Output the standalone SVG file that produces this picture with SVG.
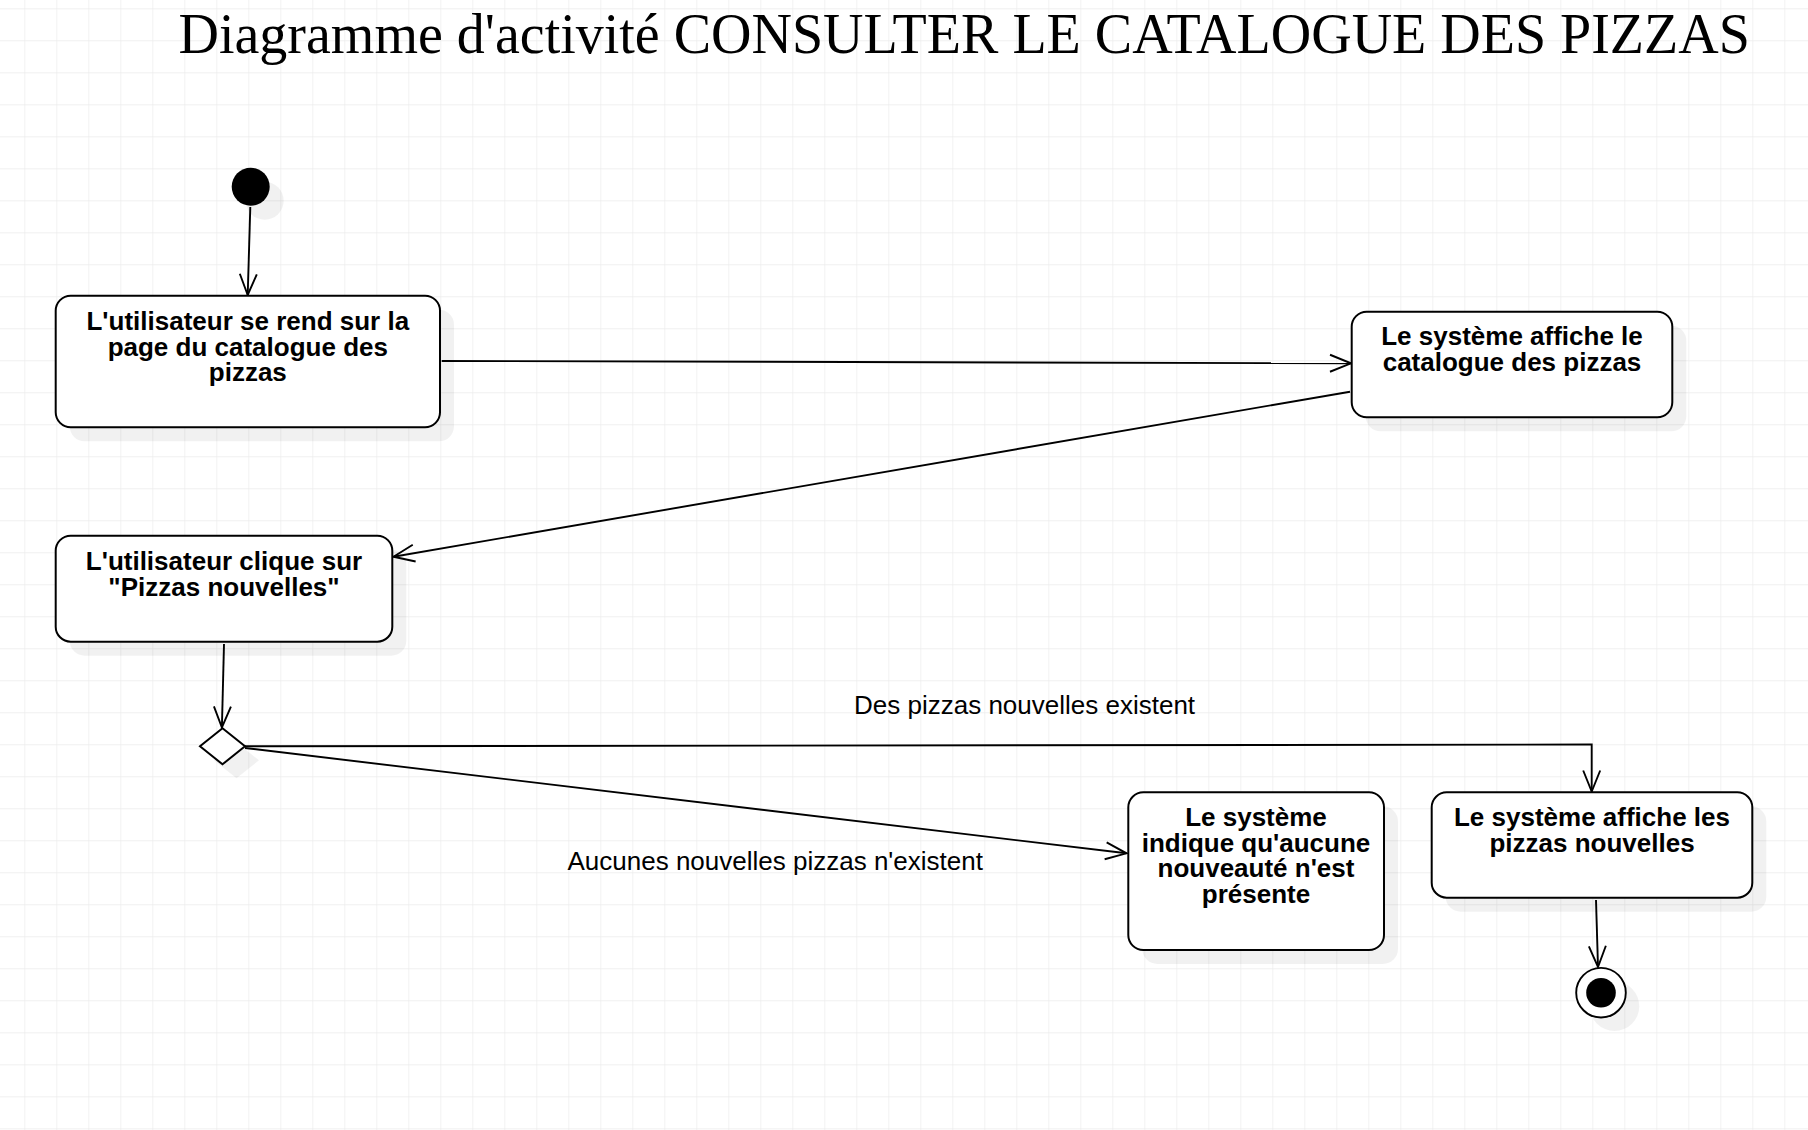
<svg xmlns="http://www.w3.org/2000/svg" width="1808" height="1130" viewBox="0 0 1808 1130">
<style>
.node{fill:#fff;stroke:#000;stroke-width:2}
.shadow{fill:#000;fill-opacity:0.055;stroke:none}
.txt{font-family:"Liberation Sans",Arial,sans-serif;font-size:26px;font-weight:bold;text-anchor:middle;fill:#000}
.lbl{font-family:"Liberation Sans",Arial,sans-serif;font-size:26px;fill:#000}
.title{font-family:"Liberation Serif","Times New Roman",serif;font-size:56px;fill:#000}
.edge{fill:none;stroke:#000;stroke-width:1.9;marker-end:url(#arr)}
</style>
<defs>
<pattern id="grid" x="24.3" y="8.3" width="32" height="32" patternUnits="userSpaceOnUse">
<path d="M0,0 H32 M0,0 V32" fill="none" stroke="#ececec" stroke-width="1.4"/>
</pattern>
<marker id="arr" markerUnits="userSpaceOnUse" markerWidth="26" markerHeight="22" viewBox="-23 -11 26 22" refX="0" refY="0" orient="auto" overflow="visible">
<path d="M-21,-8.5 L0,0 L-21,8.5" fill="none" stroke="#000" stroke-width="1.9"/>
</marker>
</defs>
<rect width="1808" height="1130" fill="#fff"/>
<rect width="1808" height="1130" fill="url(#grid)"/>
<text class="title" x="178.5" y="52.5">Diagramme d'activité CONSULTER LE CATALOGUE DES PIZZAS</text>

<g id="connectors">
<path class="edge" d="M250.3,207 L247.7,295"/>
<path class="edge" d="M441.7,361 L1351,363.3"/>
<path class="edge" d="M1350,391.7 L393.5,556.7"/>
<path class="edge" d="M224,644 L221.9,727.5"/>
<path class="edge" d="M245,746.3 L1591.7,744.5 L1591.7,791.5"/>
<path class="edge" d="M245,748 L1126.5,853.3"/>
<path class="edge" d="M1596,900 L1598,967"/>
<text class="lbl" x="854" y="714">Des pizzas nouvelles existent</text>
<text class="lbl" x="567.5" y="870">Aucunes nouvelles pizzas n'existent</text>
</g>

<g id="start">
<circle class="shadow" cx="264.7" cy="200.7" r="19"/>
<circle cx="250.7" cy="186.7" r="19" fill="#000"/>
</g>

<g id="n1">
<rect class="shadow" x="69.7" y="309.7" width="384.3" height="131.6" rx="15"/>
<rect class="node" x="55.7" y="295.7" width="384.3" height="131.6" rx="15"/>
<text class="txt" x="247.8" y="330">L'utilisateur se rend sur la</text>
<text class="txt" x="247.8" y="356">page du catalogue des</text>
<text class="txt" x="247.8" y="381">pizzas</text>
</g>

<g id="n2">
<rect class="shadow" x="1365.7" y="325.7" width="320.6" height="105.6" rx="15"/>
<rect class="node" x="1351.7" y="311.7" width="320.6" height="105.6" rx="15"/>
<text class="txt" x="1512" y="345">Le système affiche le</text>
<text class="txt" x="1512" y="371">catalogue des pizzas</text>
</g>

<g id="n3">
<rect class="shadow" x="69.7" y="549.7" width="336.6" height="106" rx="15"/>
<rect class="node" x="55.7" y="535.7" width="336.6" height="106" rx="15"/>
<text class="txt" x="224" y="570">L'utilisateur clique sur</text>
<text class="txt" x="224" y="596">"Pizzas nouvelles"</text>
</g>

<g id="decision">
<polygon class="shadow" points="236.5,742.3 259,760.3 236.5,778.3 214,760.3"/>
<polygon class="node" points="222.5,728.3 245,746.3 222.5,764.3 200,746.3"/>
</g>

<g id="n4">
<rect class="shadow" x="1142.3" y="806.3" width="255.7" height="157.7" rx="15"/>
<rect class="node" x="1128.3" y="792.3" width="255.7" height="157.7" rx="15"/>
<text class="txt" x="1256" y="825.7">Le système</text>
<text class="txt" x="1256" y="851.7">indique qu'aucune</text>
<text class="txt" x="1256" y="877.3">nouveauté n'est</text>
<text class="txt" x="1256" y="903.3">présente</text>
</g>

<g id="n5">
<rect class="shadow" x="1445.7" y="806.3" width="320.6" height="105.4" rx="15"/>
<rect class="node" x="1431.7" y="792.3" width="320.6" height="105.4" rx="15"/>
<text class="txt" x="1592" y="825.7">Le système affiche les</text>
<text class="txt" x="1592" y="851.7">pizzas nouvelles</text>
</g>

<g id="end">
<circle class="shadow" cx="1614.5" cy="1006.2" r="24.8"/>
<circle cx="1601" cy="992.7" r="24.8" fill="#fff" stroke="#000" stroke-width="1.9"/>
<circle cx="1601" cy="992.7" r="14.8" fill="#000"/>
</g>
</svg>
